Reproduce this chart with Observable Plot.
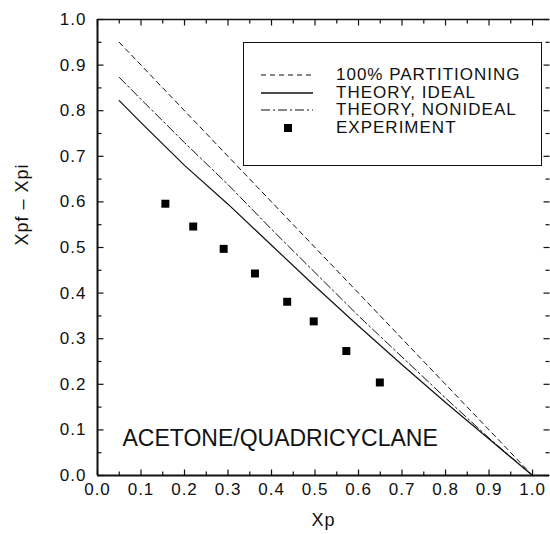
<!DOCTYPE html>
<html><head><meta charset="utf-8">
<script src="https://cdn.jsdelivr.net/npm/d3@7"></script>
<script src="https://cdn.jsdelivr.net/npm/@observablehq/plot@0.6"></script>
<style>
html,body{margin:0;padding:0;background:#fff;}
#wrap{position:relative;width:550px;height:534px;font-family:"Liberation Sans",Arial,sans-serif;color:#111;}
#wrap svg text{letter-spacing:1px;}
#legend{position:absolute;left:243px;top:42px;width:297px;height:122px;border:1.5px solid #111;background:#fff;}
.row{position:absolute;left:0;height:16px;width:297px;}
.row svg{position:absolute;left:17px;top:0;}
.row span{position:absolute;left:92px;top:0;line-height:16px;font-size:17px;letter-spacing:1px;white-space:nowrap;}
</style>
</head><body>
<div id="wrap"><div id="chart"></div><div id="legend"></div></div>
<script>
// ---- data ----
const theoryXp = [0.05, 0.1, 0.2, 0.3, 0.4, 0.5, 0.6, 0.7, 0.8, 0.9, 1.0];
const theoryIdeal = [0.822, 0.774, 0.680, 0.595, 0.505, 0.415, 0.328, 0.243, 0.160, 0.080, 0.0];
const theoryNonideal = [0.873, 0.825, 0.730, 0.638, 0.540, 0.445, 0.350, 0.260, 0.170, 0.082, 0.0];
const partitionXp = [0.05, 1.0];
const partitionY = [0.95, 0.0];
const expXp = [0.156, 0.220, 0.290, 0.362, 0.436, 0.497, 0.572, 0.649];
const expY = [0.596, 0.546, 0.497, 0.443, 0.381, 0.338, 0.273, 0.204];
const majorTicks = [0, 0.1, 0.2, 0.3, 0.4, 0.5, 0.6, 0.7, 0.8, 0.9, 1.0];
const minorTicks = [0.05, 0.15, 0.25, 0.35, 0.45, 0.55, 0.65, 0.75, 0.85, 0.95];
const tickLabels = ["0.0","0.1","0.2","0.3","0.4","0.5","0.6","0.7","0.8","0.9","1.0"];
const legendLabels = ["100% PARTITIONING", "THEORY, IDEAL", "THEORY, NONIDEAL", "EXPERIMENT"];
const xTitle = "Xp";
const yTitle = "Xpf \u2013 Xpi";
const annotation = "ACETONE/QUADRICYCLANE";

// ---- layout ----
const W = 550, H = 534, ML = 97, MR = 1, MT = 19, MB = 59;

const idealData = theoryXp.map((x, i) => ({x, y: theoryIdeal[i]}));
const nonidealData = theoryXp.map((x, i) => ({x, y: theoryNonideal[i]}));
const partData = partitionXp.map((x, i) => ({x, y: partitionY[i]}));
const expData = expXp.map((x, i) => ({x, y: expY[i]}));

const ink = "#111";
// tick-mark symbols: a short stroke from the anchor point (inward ticks)
const tickSym = (dx, dy) => ({draw(ctx) { ctx.moveTo(0, 0); ctx.lineTo(dx, dy); }});
const tickDots = (data, ch, anchor, dx, dy) =>
  Plot.dot(data, {[ch]: d => d, frameAnchor: anchor, symbol: tickSym(dx, dy), fill: "none", stroke: ink, strokeWidth: 1.2});

const chart = Plot.plot({
  width: W, height: H,
  marginLeft: ML, marginRight: MR, marginTop: MT, marginBottom: MB,
  style: {fontFamily: '"Liberation Sans", Arial, sans-serif', color: ink, background: "#fff"},
  x: {domain: [0, 1.039], axis: null},
  y: {domain: [0, 1], axis: null},
  marks: [
    Plot.ruleX([0], {stroke: ink, strokeWidth: 2}),
    Plot.ruleY([0], {stroke: ink, strokeWidth: 2}),
    Plot.ruleY([1], {stroke: ink, strokeWidth: 1.5}),
    tickDots(majorTicks, "x", "bottom", 0, -6),
    tickDots(minorTicks, "x", "bottom", 0, -4),
    tickDots(majorTicks, "x", "top", 0, 6),
    tickDots(minorTicks, "x", "top", 0, 4),
    tickDots(majorTicks, "y", "left", 6, 0),
    tickDots(minorTicks, "y", "left", 4, 0),
    tickDots(majorTicks, "y", "right", -6, 0),
    tickDots(minorTicks, "y", "right", -4, 0),
    Plot.text(majorTicks, {x: d => d, text: (d, i) => tickLabels[i], frameAnchor: "bottom", dy: 19, fontSize: 17, fill: ink}),
    Plot.text(majorTicks, {y: d => d, text: (d, i) => tickLabels[i], frameAnchor: "left", dx: -11, textAnchor: "end", fontSize: 17, fill: ink}),
    Plot.text([xTitle], {frameAnchor: "bottom", dy: 50, fontSize: 18, fill: ink}),
    Plot.text([yTitle], {frameAnchor: "left", dx: -75, dy: -2, rotate: -90, fontSize: 18, fill: ink}),
    Plot.text([annotation], {frameAnchor: "bottom-left", dx: 25, dy: -30, textAnchor: "start", fontSize: 23, fill: ink}),
    Plot.line(partData, {x: "x", y: "y", stroke: ink, strokeWidth: 1, strokeDasharray: "5,4"}),
    Plot.line(nonidealData, {x: "x", y: "y", stroke: ink, strokeWidth: 1, strokeDasharray: "9,3,2,3"}),
    Plot.line(idealData, {x: "x", y: "y", stroke: ink, strokeWidth: 1.2}),
    Plot.dot(expData, {x: "x", y: "y", symbol: "square", r: 4.5, fill: "#000", stroke: null})
  ]
});
document.getElementById("chart").appendChild(chart);
d3.select(chart).selectAll("text").filter(function() { return this.textContent === annotation; }).style("letter-spacing", "0px");

// ---- legend ----
const legend = document.getElementById("legend");
const centers = [32, 49.5, 67, 84.5];
const styles = [{dash: "5,4"}, {dash: null}, {dash: "9,3,2,3"}, {square: true}];
legendLabels.forEach((lab, i) => {
  const row = document.createElement("div");
  row.className = "row";
  row.style.top = (centers[i] - 8) + "px";
  const s = d3.create("svg").attr("width", 54).attr("height", 16);
  if (styles[i].square) {
    s.append("rect").attr("x", 23).attr("y", 4).attr("width", 8).attr("height", 8).attr("fill", "#000");
  } else {
    s.append("line").attr("x1", 0).attr("x2", 52).attr("y1", 8).attr("y2", 8)
      .attr("stroke", ink).attr("stroke-width", i === 1 ? 1.3 : 1)
      .attr("stroke-dasharray", styles[i].dash);
  }
  row.appendChild(s.node());
  const t = document.createElement("span");
  t.textContent = lab;
  row.appendChild(t);
  legend.appendChild(row);
});
</script>
</body></html>
